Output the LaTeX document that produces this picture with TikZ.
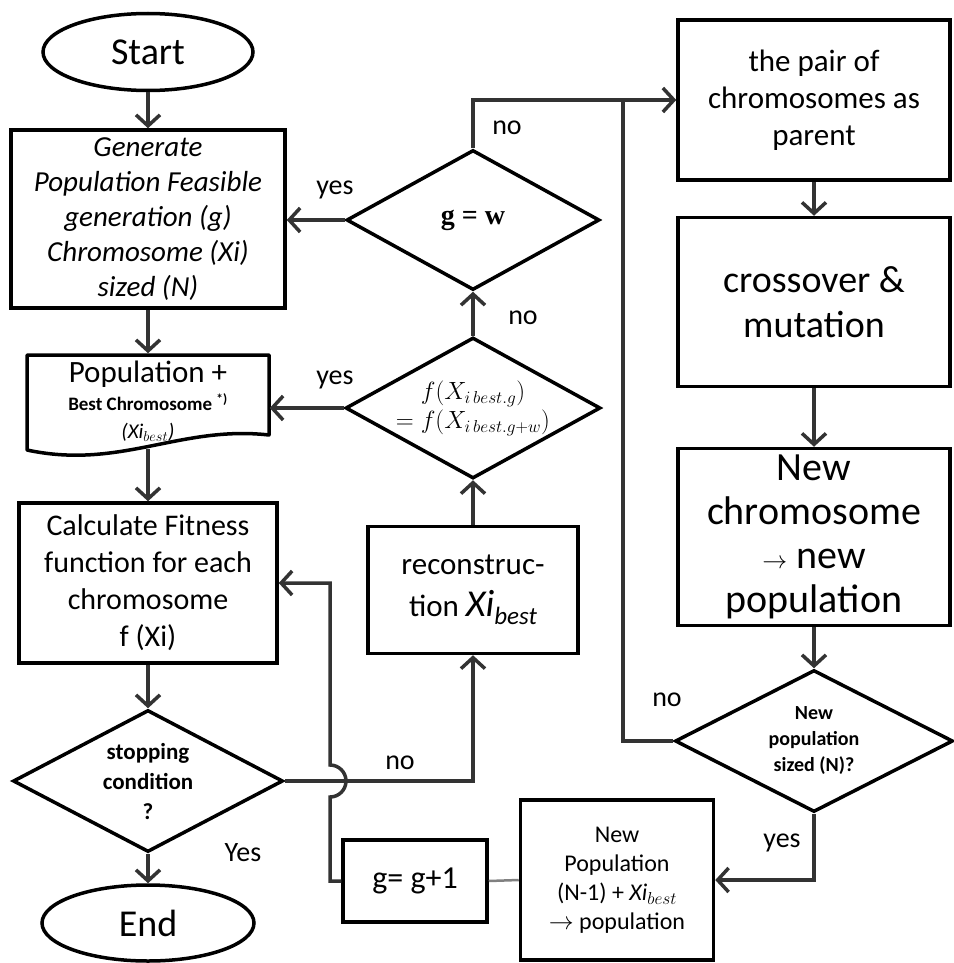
\documentclass[tikz,border=0pt]{standalone}
\usepackage{fontspec}
\setmainfont{Carlito}
\newfontfamily\timesfont{Liberation Serif}
\usepackage{tikz}
\usetikzlibrary{arrows.meta,shapes.geometric}

\newcommand\fsz[2]{\fontsize{#1}{#2}\selectfont}

\tikzset{
  box/.style={draw=black, line width=3.5pt, rectangle, align=center, inner sep=0pt},
  term/.style={draw=black, line width=3.5pt, ellipse, inner sep=0pt},
  decision/.style={draw=black, line width=3.5pt, diamond, align=center, inner sep=0pt},
  conn/.style={draw=black!80, line width=3.5pt, -{Straight Barb[length=11pt,width=24pt]}},
  plainconn/.style={draw=black!80, line width=3.5pt},
  lbl/.style={font=\fsz{28}{28}},
}

\begin{document}
\begin{tikzpicture}[x=1pt,y=-1pt]
    \useasboundingbox (0,0) rectangle (953,963);

    % Left column
    \node[term, minimum width=210pt, minimum height=77pt, font=\fsz{38}{40}] (start) at (148,52) {Start};
    \node[box, minimum width=274pt, minimum height=178pt, font=\itshape\fsz{29}{35}] (gen) at (148,219)
        {Generate\\Population Feasible\\generation (g)\\Chromosome (Xi)\\sized (N)};
    \node[box, draw=none, minimum width=240pt, minimum height=92pt, font=\fsz{20}{28}] (pop) at (148,401)
        {{\fsz{31}{32}Population +}\\
         {\bfseries\fsz{19}{24}Best Chromosome \textsuperscript{*)}}\\
         {\itshape\fsz{21}{24}(Xi$_{best}$)}};
    \draw[line width=3.5pt, line join=round] (27,355) -- (269,355) -- (269,435)
        .. controls (180,425) and (120,470) .. (27,450) -- cycle;
    \node[box, minimum width=258pt, minimum height=160pt, font=\fsz{30}{37}] (calc) at (148,583)
        {Calculate Fitness\\function for each\\chromosome\\f (Xi)};
    \node[decision, aspect=1.9, minimum width=270pt, minimum height=142pt, font=\bfseries\fsz{23}{30}] (stop) at (148,781)
        {stopping\\condition\\?};
    \node[term, minimum width=212pt, minimum height=76pt, font=\fsz{38}{40}] (endn) at (148,923) {End};

    % Middle column
    \node[decision, aspect=1.8, minimum width=253pt, minimum height=140pt, font=\timesfont\bfseries\fsz{28}{30}] (gw) at (473,220)
        {g = w};
    \node[decision, aspect=1.8, minimum width=255pt, minimum height=141pt, font=\fsz{25}{29}] (fd) at (473,408)
        {$f(X_{i\,best.g})$\\$=f(X_{i\,best.g+w})$};
    \node[box, minimum width=210pt, minimum height=127pt, font=\fsz{31}{42}] (recon) at (473,590)
        {reconstruc-\\tion {\itshape\fsz{38}{42}Xi}\raisebox{-8pt}{\itshape\fsz{25}{25}best}};
    \node[box, minimum width=144pt, minimum height=82pt, font=\fsz{32}{34}] (gbox) at (415,881) {g= g+1};
    \node[box, minimum width=193pt, minimum height=160pt, font=\fsz{24}{29}] (newpop) at (617,880)
        {New\\Population\\(N-1) + \textit{Xi}$_{best}$\\$\rightarrow$ population};

    % Right column
    \node[box, minimum width=272pt, minimum height=160pt, font=\fsz{31}{37}] (pair) at (814,100)
        {the pair of\\chromosomes as\\parent};
    \node[box, minimum width=272pt, minimum height=169pt, font=\fsz{38}{45}] (cross) at (814,302)
        {crossover \&\\mutation};
    \node[box, minimum width=272pt, minimum height=177pt, font=\fsz{40}{44}] (newchr) at (814,537)
        {New\\chromosome\\$\rightarrow$ new\\population};
    \node[decision, aspect=2, minimum width=278pt, minimum height=142pt, font=\bfseries\fsz{20}{26}] (nsize) at (814,741)
        {New\\population\\sized (N)?};

    % Junctions
    \coordinate (join) at (623,100);
    \coordinate (jump) at (330,797);

    % Main flow
    \draw[conn] (start.south) -- (gen.north);
    \draw[conn] (gen.south) -- (pop.north);
    \draw[conn] (pop.south) -- (calc.north);
    \draw[conn] (calc.south) -- (stop.north);
    \draw[conn] (stop.south) -- (endn.north);

    % Loop back
    \draw[conn] (stop.east) -| (recon.south);
    \draw[conn] (recon.north) -- (fd.south);
    \draw[conn] (fd.north) -- (gw.south);
    \draw[conn] (gw.west) -- (gw.west -| gen.east);
    \draw[conn] (fd.west) -- (fd.west -| pop.east);
    \draw[conn] (gw.north) |- (pair.west);
    \draw[plainconn] (nsize.west) -| (join);
    \draw[conn] (pair.south) -- (cross.north);
    \draw[conn] (cross.south) -- (newchr.north);
    \draw[conn] (newchr.south) -- (nsize.north);
    \draw[conn] (nsize.south) |- (newpop.east);
    \draw[draw=black!50, line width=2.5pt] (newpop.west) -- (gbox.east);
    \draw[conn] (gbox.west) -| (jump) arc[start angle=-90, end angle=90, radius=16pt] |- (calc.east);

    % Labels
    \node[lbl] (yes1) at (335,190) {yes};
    \node[lbl] (yes2) at (335,380) {yes};
    \node[lbl] (no1) at (507,128) {no};
    \node[lbl] (no2) at (523,318) {no};
    \node[lbl] (no3) at (400,763) {no};
    \node[lbl] (yes3) at (243,853) {Yes};
    \node[lbl] (no4) at (667,700) {no};
    \node[lbl] (yes4) at (782,843) {yes};
\end{tikzpicture}
\end{document}
